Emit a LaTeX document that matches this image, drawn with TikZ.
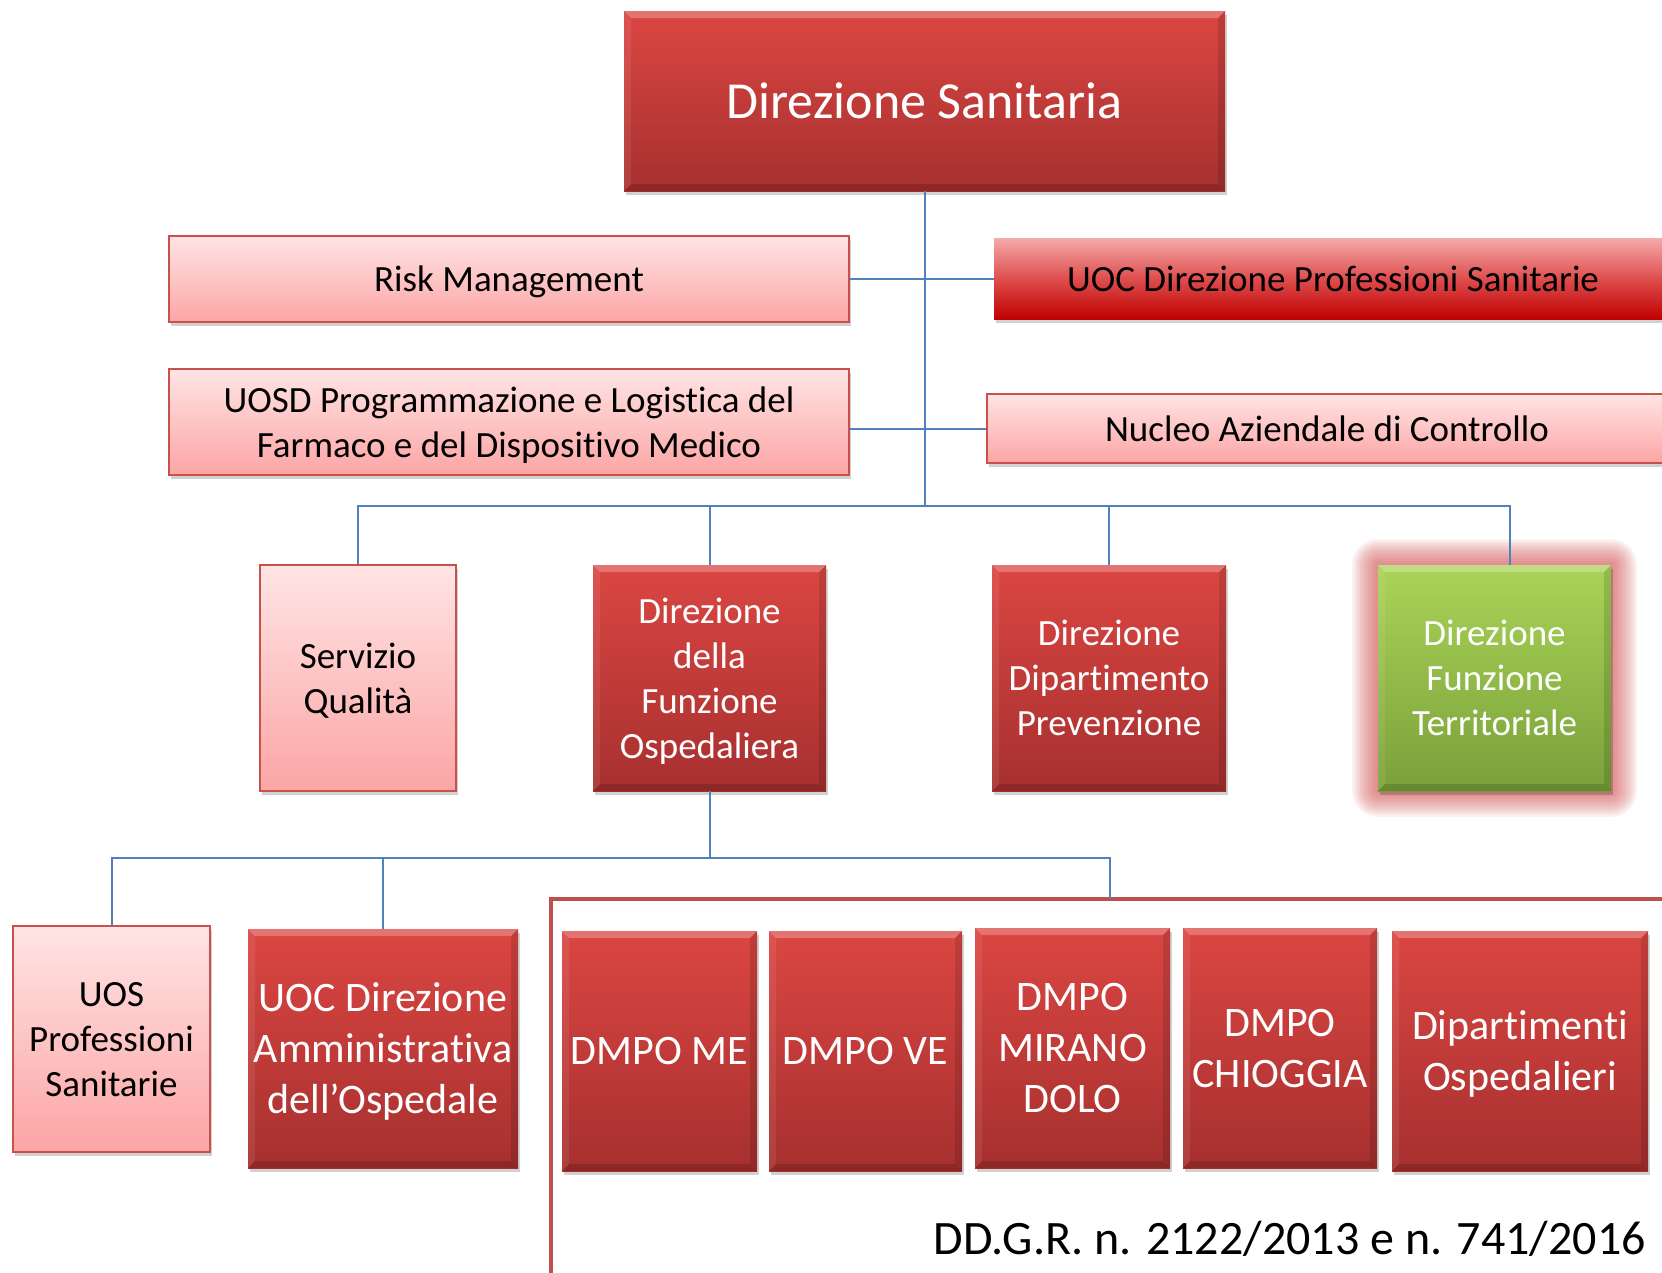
\documentclass[tikz,border=0pt]{standalone}
\usepackage{fontspec}
\setmainfont{Carlito}[Ligatures=NoCommon]
\usetikzlibrary{shadows,calc}
\definecolor{dkTop}{RGB}{219,70,66}
\definecolor{dkBot}{RGB}{166,48,47}
\definecolor{pkTop}{RGB}{255,228,228}
\definecolor{pkBot}{RGB}{252,165,165}
\definecolor{pkLine}{RGB}{200,80,77}
\definecolor{rdTop}{RGB}{244,170,170}
\definecolor{rdMid}{RGB}{222,78,78}
\definecolor{rdBot}{RGB}{192,0,0}
\definecolor{gnTop}{RGB}{170,212,88}
\definecolor{gnBot}{RGB}{122,160,58}
\definecolor{glowred}{RGB}{214,80,80}
\definecolor{conn}{RGB}{79,129,189}
\definecolor{frameRed}{RGB}{192,80,77}
\begin{document}
\begin{tikzpicture}[x=1pt,y=-1pt,
  bevel/.style={path picture={
    \fill[white,opacity=.25] (path picture bounding box.north west) -- (path picture bounding box.north east) -- ++(-7,7) -- ($(path picture bounding box.north west)+(7,7)$) -- cycle;
    \fill[white,opacity=.08] (path picture bounding box.north west) -- ($(path picture bounding box.north west)+(7,7)$) -- ($(path picture bounding box.south west)+(7,-7)$) -- (path picture bounding box.south west) -- cycle;
    \fill[black,opacity=.12] (path picture bounding box.north east) -- ($(path picture bounding box.north east)+(-7,7)$) -- ($(path picture bounding box.south east)+(-7,-7)$) -- (path picture bounding box.south east) -- cycle;
    \fill[black,opacity=.15] (path picture bounding box.south west) -- (path picture bounding box.south east) -- ++(-7,-7) -- ($(path picture bounding box.south west)+(7,-7)$) -- cycle;
  }},
  shad/.style={drop shadow={shadow xshift=1.5pt,shadow yshift=-4pt,opacity=.18,fill=black}},
  basebox/.style={rectangle,shad,align=center,inner sep=0pt,text depth=0pt},
  darkbox/.style={basebox,top color=dkTop,bottom color=dkBot,draw=none,text=white,bevel},
  greenbox/.style={basebox,top color=gnTop,bottom color=gnBot,draw=none,text=white,bevel},
  pinkbox/.style={basebox,top color=pkTop,bottom color=pkBot,draw=pkLine,line width=2pt,text=black},
  redbox/.style={basebox,top color=rdTop,bottom color=rdBot,middle color=rdMid,draw=none,text=black},
  conline/.style={draw=conn,line width=2pt},
  frameline/.style={draw=frameRed,line width=4.5pt},
  fbig/.style={font=\fontsize{52}{63}\selectfont},
  fmid/.style={font=\fontsize{37}{45}\selectfont},
  flarge/.style={font=\fontsize{42}{51}\selectfont}
]
\useasboundingbox (0,0) rectangle (1662,1272);
\clip (0,0) rectangle (1662,1272);
\fill[white] (0,0) rectangle (1662,1272);

% glow behind the green box
\foreach \r in {26,24,...,2}{
  \fill[glowred,opacity=0.07,rounded corners=\r pt] (1378-\r,565-\r) rectangle (1611+\r,791+\r);
}

% red frame
\draw[frameline] (551,1300) -- (551,899) -- (1700,899);

% nodes
\node[darkbox,fbig,minimum width=601,minimum height=180] (ds) at (924.5,101) {Direzione Sanitaria};
\node[pinkbox,fmid,minimum width=680,minimum height=86] (rm) at (509,279) {Risk Management};
\node[pinkbox,fmid,minimum width=680,minimum height=106] (uosd) at (509,422) {UOSD Programmazione e Logistica del\\Farmaco e del Dispositivo Medico};
\node[redbox,fmid,minimum width=678,minimum height=81] (udps) at (1333,278.5) {UOC Direzione Professioni Sanitarie};
\node[pinkbox,fmid,minimum width=680,minimum height=69] (nac) at (1327,428.5) {Nucleo Aziendale di Controllo};

\node[pinkbox,fmid,minimum width=196,minimum height=226] (sq) at (358,678) {Servizio\\Qualità};
\node[darkbox,fmid,minimum width=233,minimum height=226] (dfo) at (709.5,678) {Direzione\\della\\Funzione\\Ospedaliera};
\node[darkbox,fmid,minimum width=234,minimum height=226] (dpp) at (1109,678) {Direzione\\Dipartimento\\Prevenzione};
\node[greenbox,fmid,minimum width=233,minimum height=226] (dft) at (1494.5,678) {Direzione\\Funzione\\Territoriale};

\node[pinkbox,fmid,minimum width=197,minimum height=226] (uos) at (111.5,1039) {UOS\\Professioni\\Sanitarie};
\node[darkbox,flarge,minimum width=270,minimum height=239] (uocamm) at (383,1048.5) {UOC Direzione\\Amministrativa\\dell’Ospedale};
\node[darkbox,flarge,minimum width=195,minimum height=240] (me) at (659.5,1051) {DMPO ME};
\node[darkbox,flarge,minimum width=193,minimum height=240] (ve) at (865.5,1051) {DMPO VE};
\node[darkbox,flarge,minimum width=195,minimum height=240] (mir) at (1072.5,1048) {DMPO\\MIRANO\\DOLO};
\node[darkbox,flarge,minimum width=194,minimum height=240] (chi) at (1280,1048) {DMPO\\CHIOGGIA};
\node[darkbox,flarge,minimum width=256,minimum height=240] (dip) at (1520,1051) {Dipartimenti\\Ospedalieri};

\node[anchor=base east,font=\fontsize{48}{58}\selectfont,inner sep=0pt] (ddgr) at (1646,1254) {DD.G.R. n. 2122/2013 e n. 741/2016};

% connectors
\coordinate (bus) at (924.5,506);
\coordinate (bus2) at (709.5,858);
\coordinate (tc) at (1510,565);
\coordinate (frametop) at (1110,899);
\draw[conline] (ds.south) -- (bus);
\draw[conline] (rm.east) -- (rm.east -| udps.west);
\draw[conline] (uosd.east |- nac.west) -- (nac.west);
\draw[conline] (sq.north) |- (bus) -| (tc);
\draw[conline] (dfo.north) -- (dfo.north |- bus);
\draw[conline] (dpp.north) -- (dpp.north |- bus);
\draw[conline] (dfo.south) -- (bus2);
\draw[conline] (uos.north) |- (bus2) -| (frametop);
\draw[conline] (uocamm.north) -- (uocamm.north |- bus2);
\end{tikzpicture}
\end{document}
